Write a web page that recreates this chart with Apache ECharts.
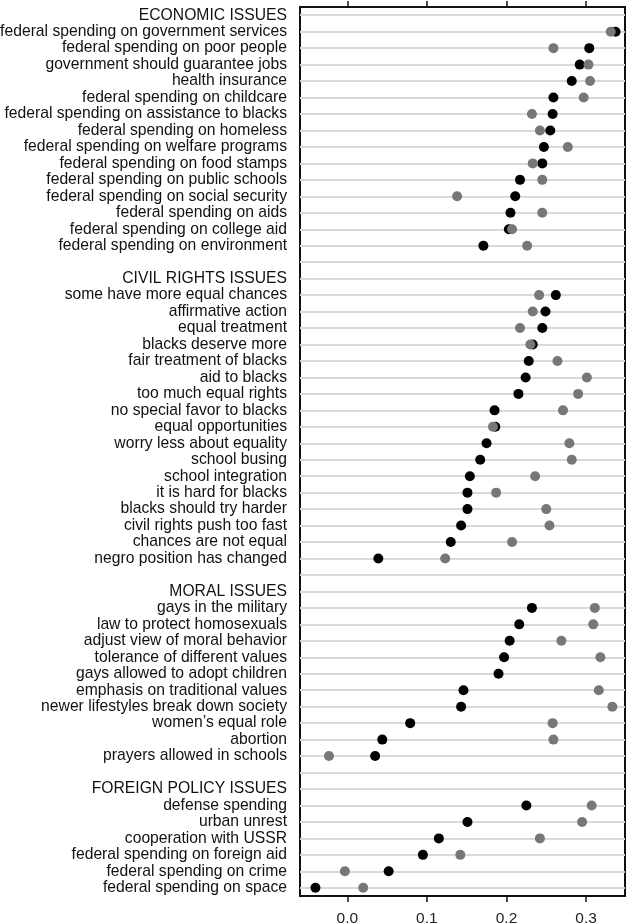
<!DOCTYPE html>
<html>
<head>
<meta charset="utf-8">
<script src="https://cdn.jsdelivr.net/npm/echarts@6/dist/echarts.min.js"></script>
<style>
html,body{margin:0;padding:0;background:#fff;}
#chart{width:627px;height:924px;}
</style>
</head>
<body>
<div id="chart"></div>
<script>
// ---- data ----
const economicHeader = 'ECONOMIC ISSUES';
const economicItems = ['federal spending on government services','federal spending on poor people','government should guarantee jobs','health insurance','federal spending on childcare','federal spending on assistance to blacks','federal spending on homeless','federal spending on welfare programs','federal spending on food stamps','federal spending on public schools','federal spending on social security','federal spending on aids','federal spending on college aid','federal spending on environment'];
const economicBlack = [0.337,0.304,0.292,0.282,0.259,0.258,0.255,0.247,0.245,0.217,0.211,0.205,0.203,0.171];
const economicGray  = [0.331,0.259,0.303,0.305,0.297,0.232,0.242,0.277,0.233,0.245,0.138,0.245,0.207,0.226];

const civilHeader = 'CIVIL RIGHTS ISSUES';
const civilItems = ['some have more equal chances','affirmative action','equal treatment','blacks deserve more','fair treatment of blacks','aid to blacks','too much equal rights','no special favor to blacks','equal opportunities','worry less about equality','school busing','school integration','it is hard for blacks','blacks should try harder','civil rights push too fast','chances are not equal','negro position has changed'];
const civilBlack = [0.262,0.249,0.245,0.233,0.228,0.224,0.215,0.185,0.186,0.175,0.167,0.154,0.151,0.151,0.143,0.130,0.039];
const civilGray  = [0.241,0.233,0.217,0.230,0.264,0.301,0.290,0.271,0.183,0.279,0.282,0.236,0.187,0.250,0.254,0.207,0.123];

const moralHeader = 'MORAL ISSUES';
const moralItems = ['gays in the military','law to protect homosexuals','adjust view of moral behavior','tolerance of different values','gays allowed to adopt children','emphasis on traditional values','newer lifestyles break down society','women\u2019s equal role','abortion','prayers allowed in schools'];
const moralBlack = [0.232,0.216,0.204,0.197,0.190,0.146,0.143,0.079,0.044,0.035];
const moralGray  = [0.311,0.309,0.269,0.318,null,0.316,0.333,0.258,0.259,-0.023];

const foreignHeader = 'FOREIGN POLICY ISSUES';
const foreignItems = ['defense spending','urban unrest','cooperation with USSR','federal spending on foreign aid','federal spending on crime','federal spending on space'];
const foreignBlack = [0.225,0.151,0.115,0.095,0.052,-0.040];
const foreignGray  = [0.307,0.295,0.242,0.142,-0.003,0.020];

const xTicks = [0.0, 0.1, 0.2, 0.3];

// ---- build rows ----
const groups = [
  [economicHeader, economicItems, economicBlack, economicGray],
  [civilHeader, civilItems, civilBlack, civilGray],
  [moralHeader, moralItems, moralBlack, moralGray],
  [foreignHeader, foreignItems, foreignBlack, foreignGray]
];
const labels = [], blackData = [], grayData = [];
groups.forEach((g, gi) => {
  if (gi > 0) labels.push(' '.repeat(gi));
  labels.push(g[0]);
  g[1].forEach((name, k) => {
    const idx = labels.length;
    labels.push(name);
    if (g[2][k] != null) blackData.push([g[2][k], idx]);
    if (g[3][k] != null) grayData.push([g[3][k], idx]);
  });
});

const font = "'Liberation Sans', Arial, Helvetica, sans-serif";
const chart = echarts.init(document.getElementById('chart'), null, {renderer: 'canvas'});
chart.setOption({
  animation: false,
  backgroundColor: '#ffffff',
  grid: {left: 300, right: 2, top: 7, bottom: 28, containLabel: false, outerBoundsMode: 'none',
    show: true, borderColor: '#111', borderWidth: 2, backgroundColor: 'transparent'},
  xAxis: [
    {
      type: 'value', position: 'bottom', min: -0.0594, max: 0.3489,
      axisLine: {show: false},
      splitLine: {show: false},
      axisTick: {show: true, length: 6, lineStyle: {color: '#111', width: 1.5}, customValues: xTicks},
      axisLabel: {show: true, margin: 15, fontSize: 15.5, color: '#222', fontFamily: font, customValues: xTicks,
        formatter: v => v.toFixed(1)}
    },
    {
      type: 'value', position: 'top', min: -0.0594, max: 0.3489,
      axisLine: {show: false},
      splitLine: {show: false},
      axisTick: {show: true, length: 6, lineStyle: {color: '#111', width: 1.5}, customValues: xTicks},
      axisLabel: {show: false}
    }
  ],
  yAxis: {
    type: 'category', inverse: true, data: labels, boundaryGap: true,
    axisLine: {show: false}, axisTick: {show: false}, splitLine: {show: false},
    axisLabel: {interval: 0, margin: 13, fontSize: 15.7, color: '#111', fontFamily: font}
  },
  series: [
    {
      type: 'scatter', name: 'black', data: blackData, symbol: 'circle', symbolSize: 10,
      itemStyle: {color: '#000', opacity: 1}, z: 3, silent: true,
      markLine: {
        silent: true, symbol: ['none', 'none'], z: 1, animation: false,
        label: {show: false},
        lineStyle: {color: '#d9d9d9', width: 2, type: 'solid'},
        emphasis: {disabled: true},
        data: labels.map((_, i) => ({yAxis: i}))
      }
    },
    {
      type: 'scatter', name: 'gray', data: grayData, symbol: 'circle', symbolSize: 10,
      itemStyle: {color: '#777', opacity: 1}, z: 4, silent: true
    }
  ]
});
</script>
</body>
</html>
